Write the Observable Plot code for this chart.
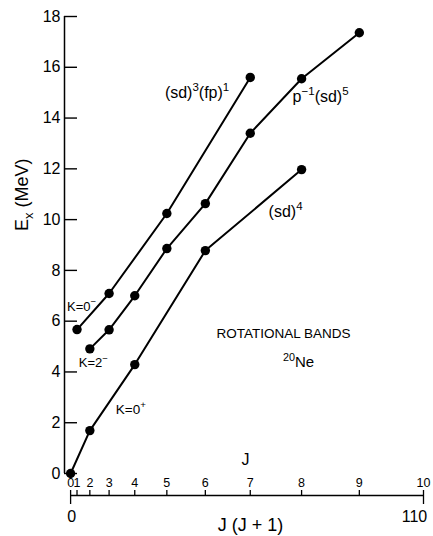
<!DOCTYPE html>
<html>
<head>
<meta charset="utf-8">
<script src="https://cdn.jsdelivr.net/npm/d3@7"></script>
<script src="https://cdn.jsdelivr.net/npm/@observablehq/plot@0.6"></script>
<style>
  html, body { margin: 0; padding: 0; background: #fff; }
  #chart svg { display: block; }
</style>
</head>
<body>
<div id="chart"></div>
<script>
// ---- data ----
const bandNames = ["K=0-", "K=2-", "K=0+"];
const k0mJ = [1, 3, 5, 7];
const k0mE = [5.67, 7.09, 10.24, 15.6];
const k2mJ = [2, 3, 4, 5, 6, 7, 8, 9];
const k2mE = [4.91, 5.66, 7.0, 8.86, 10.63, 13.4, 15.55, 17.36];
const k0pJ = [0, 2, 4, 6, 8];
const k0pE = [0, 1.69, 4.29, 8.78, 11.97];
const yTicks = [0, 2, 4, 6, 8, 10, 12, 14, 16, 18];
const jTicks = [0, 1, 2, 3, 4, 5, 6, 7, 8, 9, 10];
const jjTicks = [0, 110];

const rows = [];
[[bandNames[0], k0mJ, k0mE], [bandNames[1], k2mJ, k2mE], [bandNames[2], k0pJ, k0pE]].forEach(([b, Js, Es]) => {
  Js.forEach((j, i) => rows.push({band: b, J: j, x: j * (j + 1), E: Es[i]}));
});
const first = b => rows.find(r => r.band === b);
const last = b => rows.filter(r => r.band === b).at(-1);
const at = (b, j) => rows.find(r => r.band === b && r.J === j);

const W = 433, H = 536;
const mL = 64, mR = 10, mT = 16, mB = 41;
const frameW = W - mL - mR, frameH = H - mT - mB;
const xDomain = [-1.9, 110];
const yDomain = [-0.866, 18];
const font = "'Liberation Sans', Arial, sans-serif";

const ann = (data, opts) => Plot.text(data, {fill: "black", fontFamily: font, ...opts});

const chart = Plot.plot({
  width: W, height: H,
  marginLeft: mL, marginRight: mR, marginTop: mT, marginBottom: mB,
  x: {domain: xDomain, axis: null},
  y: {domain: yDomain, axis: null},
  style: {fontFamily: font, background: "white", color: "black"},
  marks: [
    // y axis
    Plot.ruleX([xDomain[0]], {y1: 0, y2: 18, stroke: "black", strokeWidth: 1.5}),
    Plot.tickY(yTicks, {y: d => d, insetRight: frameW - 13, stroke: "black", strokeWidth: 1.4}),
    Plot.axisY({ticks: yTicks, tickSize: 0, tickPadding: 4, fontSize: 16, label: null, anchor: "left"}),
    // J axis line and ticks
    Plot.ruleY([yDomain[0]], {x1: 0, x2: 110, stroke: "black", strokeWidth: 1.3}),
    Plot.tickX(jTicks, {x: j => j * (j + 1), insetTop: frameH - 5, stroke: "black", strokeWidth: 1.3}),
    ann(jTicks, {x: j => j * (j + 1), y: yDomain[0], text: d => String(d), dy: -13, fontSize: 12.5}),
    Plot.axisX({ticks: jjTicks, tickSize: 9, tickFormat: () => "", label: null, anchor: "bottom", stroke: "black", strokeWidth: 1.3}),
    ann([jjTicks[0]], {x: d => d, y: yDomain[0], text: d => String(d), dx: 1, dy: 21, fontSize: 16}),
    ann([jjTicks[1]], {x: d => d, y: yDomain[0], text: d => String(d), dx: -9, dy: 21, fontSize: 16}),
    // bands
    Plot.line(rows, {x: "x", y: "E", z: "band", stroke: "black", strokeWidth: 2}),
    Plot.dot(rows, {x: "x", y: "E", r: 4.7, fill: "black"}),
    // labels
    ann([first("K=0-")], {x: "x", y: "E", text: () => "K=0⁻", textAnchor: "start", dx: -10, dy: -23, fontSize: 13}),
    ann([first("K=2-")], {x: "x", y: "E", text: () => "K=2⁻", textAnchor: "start", dx: -11, dy: 14, fontSize: 13}),
    ann([at("K=0+", 2)], {x: "x", y: "E", text: () => "K=0⁺", textAnchor: "start", dx: 26, dy: -21, fontSize: 13.5}),
    ann([last("K=0-")], {x: "x", y: "E", text: () => "(sd)³(fp)¹", textAnchor: "end", dx: -21, dy: 15, fontSize: 16, letterSpacing: "1px"}),
    ann([at("K=2-", 8)], {x: "x", y: "E", text: () => "p⁻¹(sd)⁵", textAnchor: "start", dx: -9, dy: 18, fontSize: 16, letterSpacing: "1.3px"}),
    ann([last("K=0+")], {x: "x", y: "E", text: () => "(sd)⁴", textAnchor: "middle", dx: -16, dy: 42, fontSize: 16, letterSpacing: "1.2px"}),
    ann(["ROTATIONAL BANDS"], {text: d => d, frameAnchor: "top-left", textAnchor: "start", lineAnchor: "middle", dx: 216 - mL, dy: 333 - mT, fontSize: 13.5, letterSpacing: "1.3px"}),
    ann(["²⁰Ne"], {text: d => d, frameAnchor: "top-left", textAnchor: "middle", lineAnchor: "middle", dx: 298 - mL, dy: 362 - mT, fontSize: 15}),
    // axis titles
    ann(["J"], {text: d => d, frameAnchor: "bottom", dx: 1.5, dy: -31, fontSize: 16}),
    ann(["J (J + 1)"], {text: d => d, frameAnchor: "bottom", dx: 6.5, dy: 35, fontSize: 18, letterSpacing: "1.3px"}),
    ann(["Eₓ (MeV)"], {text: d => d, frameAnchor: "left", rotate: -90, dx: -42, dy: -25, fontSize: 18})
  ]
});
document.getElementById("chart").append(chart);

// typeset Unicode super/subscripts as shifted tspans (still real text)
const SUP = {"⁰":"0","¹":"1","²":"2","³":"3","⁴":"4","⁵":"5","⁶":"6","⁷":"7","⁸":"8","⁹":"9","⁻":"−","⁺":"+"};
const SUB = {"ₓ":"x"};
chart.querySelectorAll("text").forEach(t => {
  if (t.querySelector("tspan")) return;
  const s = t.textContent;
  if (![...s].some(c => SUP[c] || SUB[c])) return;
  const fs = parseFloat(getComputedStyle(t).fontSize) || 14;
  const segs = [];
  for (const c of s) {
    const kind = SUP[c] ? "sup" : SUB[c] ? "sub" : "n";
    const ch = SUP[c] || SUB[c] || c;
    if (segs.length && segs.at(-1).kind === kind) segs.at(-1).text += ch;
    else segs.push({kind, text: ch});
  }
  t.textContent = "";
  let shift = 0;
  for (const seg of segs) {
    const ts = document.createElementNS("http://www.w3.org/2000/svg", "tspan");
    const target = seg.kind === "sup" ? -0.42 * fs : seg.kind === "sub" ? 0.28 * fs : 0;
    ts.setAttribute("dy", String(target - shift));
    shift = target;
    if (seg.kind !== "n") ts.setAttribute("font-size", String(0.72 * fs));
    ts.textContent = seg.text;
    t.appendChild(ts);
  }
});
</script>
</body>
</html>
